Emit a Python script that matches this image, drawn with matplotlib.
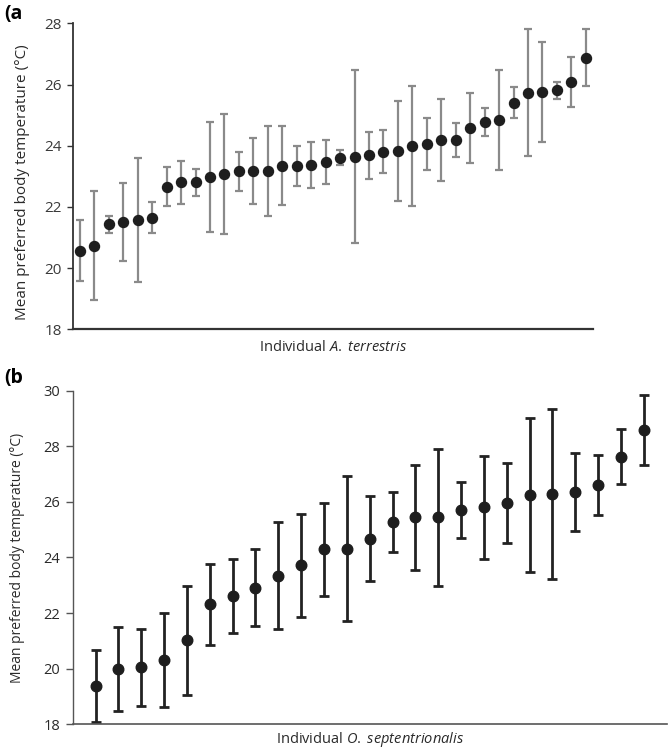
import matplotlib
matplotlib.use("Agg")
import matplotlib.pyplot as plt
import numpy as np

plt.rcParams['font.family'] = ['Open Sans', 'DejaVu Sans']
plt.rcParams['mathtext.fontset'] = 'custom'
plt.rcParams['mathtext.rm'] = 'Open Sans'
plt.rcParams['mathtext.it'] = 'Open Sans:italic'

# Panel (a): A. terrestris, individuals sorted by mean
a_mean = [20.57, 20.73, 21.43, 21.50, 21.56, 21.65, 22.66, 22.80, 22.80, 22.98,
          23.08, 23.17, 23.17, 23.17, 23.34, 23.34, 23.37, 23.47, 23.61, 23.64,
          23.69, 23.81, 23.83, 23.99, 24.06, 24.19, 24.19, 24.58, 24.78, 24.83,
          25.41, 25.73, 25.75, 25.81, 26.08, 26.88]
a_err = [0.99, 1.78, 0.28, 1.28, 2.03, 0.50, 0.63, 0.71, 0.45, 1.79,
         1.97, 0.64, 1.07, 1.48, 1.29, 0.65, 0.76, 0.73, 0.25, 2.82,
         0.77, 0.69, 1.64, 1.96, 0.86, 1.33, 0.55, 1.15, 0.45, 1.63,
         0.52, 2.08, 1.64, 0.28, 0.81, 0.93]

# Panel (b): O. septentrionalis
b_mean = [19.37, 19.99, 20.05, 20.30, 21.02, 22.32, 22.62, 22.92, 23.34, 23.72,
          24.29, 24.32, 24.67, 25.28, 25.45, 25.45, 25.71, 25.80, 25.96, 26.25,
          26.29, 26.37, 26.61, 27.63, 28.60]
b_err = [1.30, 1.52, 1.39, 1.69, 1.95, 1.45, 1.33, 1.40, 1.92, 1.85,
         1.68, 2.62, 1.53, 1.09, 1.89, 2.47, 1.02, 1.84, 1.45, 2.77,
         3.06, 1.40, 1.08, 1.00, 1.26]

a_yticks = [18, 20, 22, 24, 26, 28]
b_yticks = [18, 20, 22, 24, 26, 28, 30]
ylabel = "Mean preferred body temperature (°C)"

fig = plt.figure(figsize=(6.71, 7.5), dpi=100)
W, H = 671, 750

def px_axes(l, t, r, b):
    return fig.add_axes([l / W, 1 - b / H, (r - l) / W, (b - t) / H])

# ---- panel a ----
ax1 = px_axes(72.7, 23.3, 593, 329.3)
xa = np.arange(len(a_mean)) + 0.5
ax1.errorbar(xa, a_mean, yerr=a_err, fmt='none', ecolor='#8a8a8a',
             elinewidth=1.6, capsize=3.2, capthick=1.6, zorder=2)
ax1.plot(xa, a_mean, 'o', color='#1e1e1e', markersize=7.2, zorder=3)
ax1.set_xlim(0, len(a_mean))
ax1.set_ylim(18, 28)
ax1.set_yticks(a_yticks)
ax1.set_xticks([])
for s in ['top', 'right']:
    ax1.spines[s].set_visible(False)
ax1.spines['left'].set_color('#333333')
ax1.spines['bottom'].set_color('#333333')
ax1.spines['left'].set_linewidth(1.3)
ax1.spines['bottom'].set_linewidth(1.6)
ax1.tick_params(axis='y', direction='out', length=4, width=1.0, color='#333333',
                labelsize=11, labelcolor='#3a3a3a', pad=4)
ax1.set_ylabel(ylabel, fontsize=11, color='#2a2a2a')
ax1.yaxis.set_label_coords(-0.083, 0.48)
ax1.set_xlabel(r"Individual $\mathit{A.}$ $\mathit{terrestris}$", fontsize=10.5,
               color='#2a2a2a', labelpad=8)
fig.text(4 / W, 1 - 4 / H, "(a", fontsize=14, fontweight='bold', va='top', ha='left')

# ---- panel b ----
ax2 = px_axes(72.7, 390.7, 666.7, 724.3)
xb = np.arange(1, len(b_mean) + 1)
ax2.errorbar(xb, b_mean, yerr=b_err, fmt='none', ecolor='#222222',
             elinewidth=2.0, capsize=3.8, capthick=2.0, zorder=2)
ax2.plot(xb, b_mean, 'o', color='#1e1e1e', markersize=7.6, zorder=3)
ax2.set_xlim(0, len(b_mean) + 1)
ax2.set_ylim(18, 30)
ax2.set_yticks(b_yticks)
ax2.set_xticks([])
for s in ['top', 'right']:
    ax2.spines[s].set_visible(False)
ax2.spines['left'].set_color('#555555')
ax2.spines['bottom'].set_color('#555555')
ax2.spines['left'].set_linewidth(1.0)
ax2.spines['bottom'].set_linewidth(1.2)
ax2.tick_params(axis='y', direction='out', length=5, width=1.0, color='#555555',
                labelsize=10.5, labelcolor='#2a2a2a', pad=4)
ax2.set_ylabel(ylabel, fontsize=10, color='#2a2a2a')
ax2.yaxis.set_label_coords(-0.08, 0.5)
ax2.set_xlabel(r"Individual $\mathit{O.}$ $\mathit{septentrionalis}$", fontsize=10.5,
               color='#2a2a2a', labelpad=4)
fig.text(4 / W, 1 - 368 / H, "(b", fontsize=14, fontweight='bold', va='top', ha='left')

fig.savefig("out.png", dpi=100)
